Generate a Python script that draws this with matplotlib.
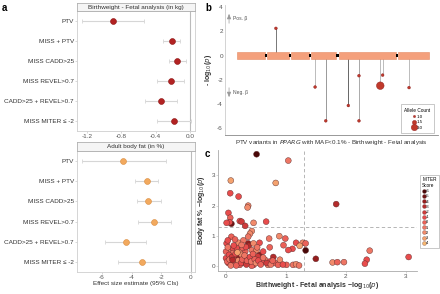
import matplotlib
matplotlib.use("Agg")
import matplotlib.pyplot as plt
import numpy as np
from matplotlib.colors import LinearSegmentedColormap
from matplotlib.lines import Line2D
from matplotlib.patches import Rectangle

plt.rcParams['font.family'] = ['Liberation Sans', 'DejaVu Sans']
plt.rcParams['mathtext.fontset'] = 'dejavusans'

# ---------------- data ----------------
categories = ["PTV", "MISS + PTV", "MISS CADD>25", "MISS REVEL>0.7",
              "CADD>25 + REVEL>0.7", "MISS MITER \u2264 -2"]
bw_est = [-0.90, -0.21, -0.15, -0.22, -0.34, -0.19]
bw_lo = [-1.26, -0.31, -0.25, -0.38, -0.52, -0.39]
bw_hi = [-0.54, -0.12, -0.05, -0.07, -0.15, 0.01]
bf_est = [-4.58, -2.96, -2.87, -2.47, -4.38, -3.32]
bf_lo = [-7.34, -3.77, -3.66, -3.59, -5.78, -4.95]
bf_hi = [-1.70, -2.20, -2.04, -1.35, -3.03, -1.70]
top_ticks = [-1.2, -0.8, -0.4, 0.0]
bot_ticks = [-6, -4, -2, 0]

# panel b: gene model (arbitrary position units) and PTV variants
exon_start = [5.6, 19.7, 31.0, 40.4, 53.5, 81.2]
exon_end = [18.8, 30.0, 39.4, 52.1, 80.3, 95.8]
var_pos = [23.9, 42.3, 47.3, 57.9, 62.9, 62.9, 72.9, 74.0, 86.4]
var_logp = [2.26, -2.62, -5.43, -4.16, -1.68, -5.43, -2.51, -1.63, -2.67]
var_ac = [1, 1, 1, 1, 1, 1, 3, 1, 1]
var_line = ["#777777", "#bbbbbb", "#999999", "#666666", "#aaaaaa", "#aaaaaa",
            "#bbbbbb", "#bbbbbb", "#bbbbbb"]
b_ticks = [4, 2, 0, -2, -4, -6]

# panel c: scatter of -log10(p)
c_x = [0.51, 1.04, 0.08, 0.83, 0.07, 0.21, 0.37, 0.36, 1.84, 0.04, 0.07, 0.09, 0.06,
       0.23, 0.26, 0.32, 0.46, 0.67, 0.01, 0.43, 0.40, 0.09, 0.37, 0.89, 0.72, 0.99,
       1.17, 1.28, 1.33, 1.23, 1.11, 1.04, 1.33, 0.56, 0.73, 0.96, 2.40, 2.35, 2.32,
       3.05, 1.50, 1.78, 1.86, 1.97, 1.01, 1.12, 1.17, 1.22, 0.79, 0.82, 0.73, 0.65,
       0.60, 0.56, 0.53, 0.29, 0.30, 0.46, 0.43, 0.37, 0.23, 0.32, 0.37, 0.38, 0.43,
       0.46, 0.01, 0.07, 0.12, 0.18, 0.21, 0.29, 0.00, 0.00, 0.04, 0.09, 0.15, 0.18,
       0.21, 0.23, 0.26, 0.12, 0.05, 0.51, 0.62, 0.70, 0.87, 0.90,
       0.02, 0.06, 0.10, 0.14, 0.16, 0.20, 0.25, 0.27, 0.31, 0.34, 0.35, 0.40, 0.42,
       0.48, 0.50, 0.54, 0.58, 0.62, 0.68, 0.75, 0.78, 0.95, 0.03, 0.13, 0.17, 0.08,
       0.28, 0.33, 0.45, 0.52, 0.03, 0.15, 0.11, 0.19, 0.26]
c_y = [3.70, 3.49, 2.83, 2.75, 2.41, 2.30, 2.00, 1.94, 2.05, 1.76, 1.60, 1.40, 1.45,
       1.49, 1.47, 1.33, 1.43, 1.47, 1.43, 1.16, 1.07, 0.97, 0.97, 0.99, 0.91, 0.91,
       0.77, 0.77, 0.75, 0.67, 0.57, 0.53, 0.52, 0.77, 0.62, 0.69, 0.51, 0.21, 0.08,
       0.30, 0.24, 0.12, 0.13, 0.13, 0.04, 0.04, 0.06, 0.02, 0.30, 0.10, 0.15, 0.21,
       0.12, 0.37, 0.32, 0.26, 0.12, 0.04, 0.01, 0.26, 0.53, 0.48, 0.75, 0.67, 0.53,
       0.75, 0.75, 0.56, 0.56, 0.60, 0.77, 0.85, 0.48, 0.26, 0.10, 0.10, 0.21, 0.08,
       0.32, 0.04, 0.37, 0.43, 0.37, 0.53, 0.48, 0.04, 0.04, 0.21,
       0.15, 0.22, 0.30, 0.12, 0.40, 0.18, 0.10, 0.22, 0.35, 0.05, 0.18, 0.30, 0.15,
       0.22, 0.10, 0.18, 0.05, 0.28, 0.10, 0.05, 0.18, 0.05, 0.62, 0.68, 0.02, 0.02,
       0.60, 0.63, 0.40, 0.62, 0.85, 0.88, 0.20, 0.45, 0.70]
c_miter = [-6, 1, 3, 3, -1, -1, 2, 2, -3, -1, 0, -5, -1,
           -1, -2, -2, 2, -1, -1, 2, 2, 0, 1, 2, 1, 0,
           -1, 2, 0, 3, -1, -1, -6, -1, 0, 0, 1, -1, -1,
           -1, -4, 2, 0, 1, 0, 1, 2, 1, -3, 0, -1, 1,
           -1, -4, -2, -4, -3, -1, 0, 1, 2, 0, -4, -3, 1,
           2, -1, 2, -1, -1, 2, 1, 0, -1, -1, 2, 0, -1,
           -4, 0, 2, 1, -1, 2, -1, 2, 0, 2,
           0, 1, -2, 1, -1, 2, -1, 0, 1, -2, 0, -1, 1,
           0, 2, -1, 0, 1, -2, 1, 0, -1, 1, -1, 0, 1,
           0, -1, 0, 1, -1, 0, -3, 3, 1]
miter_levels = [-6, -5, -4, -3, -2, -1, 0, 1, 2, 3, 4]
c_ticks_x = [0, 1, 2, 3]
c_ticks_y = [0, 1, 2, 3]
sig = 1.30

# ---------------- figure ----------------
W, H = 440, 294
fig = plt.figure(figsize=(4.4, 2.94), dpi=100)


def box(x0, y0, x1, y1):
    return [x0 / W, 1 - y1 / H, (x1 - x0) / W, (y1 - y0) / H]


txt = "#333333"
tick_fs = 4.6


def forest(ax, est, lo, hi, color, edge, ticks, xlim):
    y = np.arange(1, len(categories) + 1)
    err = [np.array(est) - np.array(lo), np.array(hi) - np.array(est)]
    ax.axvline(0, color="#bbbbbb", lw=0.8, zorder=1)
    ax.errorbar(est, y, xerr=err, fmt="none", ecolor="#d6d6d6", elinewidth=0.8,
                capsize=1.5, capthick=0.6, zorder=2)
    ax.scatter(est, y, s=18, color=color, edgecolors=edge, linewidths=0.4, zorder=3)
    ax.set_ylim(6.5, 0.5)
    ax.set_xlim(*xlim)
    ax.set_yticks(y)
    ax.set_yticklabels(categories, fontsize=tick_fs, color=txt)
    ax.set_xticks(ticks)
    ax.set_xticklabels([f"{t:.1f}" if isinstance(t, float) else str(t) for t in ticks],
                       fontsize=tick_fs, color="#555555")
    ax.tick_params(length=1.2, width=0.4, color="#bbbbbb", pad=1.0)
    for s in ax.spines.values():
        s.set_color("#cfcfcf")
        s.set_linewidth(0.6)


def strip(rect, label):
    sa = fig.add_axes(rect)
    sa.set_xticks([]); sa.set_yticks([])
    sa.set_facecolor("#f5f5f5")
    for s in sa.spines.values():
        s.set_color("#b0b0b0"); s.set_linewidth(0.6)
    sa.text(0.5, 0.45, label, ha="center", va="center", fontsize=4.6, color=txt,
            transform=sa.transAxes)


ax1 = fig.add_axes(box(77, 11, 195, 131))
forest(ax1, bw_est, bw_lo, bw_hi, "#b22222", "#8b1010", top_ticks, (-1.317, 0.058))
strip(box(77, 3, 195, 11), "Birthweight - Fetal analysis (in kg)")

ax2 = fig.add_axes(box(77, 151, 195, 272))
forest(ax2, bf_est, bf_lo, bf_hi, "#f2a95e", "#d98a3c", bot_ticks, (-7.68, 0.27))
strip(box(77, 142, 195, 151), "Adult body fat (in %)")
ax2.set_xlabel("Effect size estimate (95% CIs)", fontsize=4.6, color=txt, labelpad=1.0)

fig.text(2 / W, 1 - 8 / H, "a", fontsize=7, fontweight="bold", va="center")
fig.text(205 / W, 1 - 8 / H, "b", fontsize=7, fontweight="bold", va="center")
fig.text(205 / W, 1 - 154 / H, "c", fontsize=7, fontweight="bold", va="center")

# ---------------- panel b ----------------
axb = fig.add_axes(box(225, 5, 438, 135))
axb.set_xlim(0, 100)
axb.set_ylim(-6.61, 4.2)
for p, v, c in zip(var_pos, var_logp, var_line):
    axb.plot([p, p], [0, v], color=c, lw=0.7, zorder=1)
for a, b in zip(exon_start, exon_end):
    axb.add_patch(Rectangle((a, -0.32), b - a, 0.62, facecolor="#f4a07c",
                            edgecolor="#e58a62", lw=0.4, zorder=2))
for a, b in zip(exon_end[:-1], exon_start[1:]):
    m = (a + b) / 2
    axb.add_patch(Rectangle((m - 0.6, -0.12), 1.2, 0.24, facecolor="black",
                            edgecolor="none", zorder=3))
sizes = {1: 4, 1.5: 12, 3: 30}
axb.scatter(var_pos, var_logp, s=[sizes[a] for a in var_ac], color="#c0392b",
            edgecolors="#8b1a1a", linewidths=0.3, zorder=4)
axb.annotate("", xy=(1.9, 3.7), xytext=(1.9, 2.45),
             arrowprops=dict(arrowstyle="-|>,head_width=0.12,head_length=0.3",
                             color="#999999", lw=0.5))
axb.annotate("", xy=(1.9, -3.7), xytext=(1.9, -2.45),
             arrowprops=dict(arrowstyle="-|>,head_width=0.12,head_length=0.3",
                             color="#999999", lw=0.5))
axb.text(3.8, 3.05, "Pos. \u03b2", fontsize=3.6, color="#555555", va="center")
axb.text(3.8, -3.05, "Neg. \u03b2", fontsize=3.6, color="#555555", va="center")
axb.set_yticks(b_ticks)
axb.set_yticklabels([str(t) for t in b_ticks], fontsize=tick_fs, color="#555555")
axb.set_xticks([])
axb.tick_params(length=0, pad=1.5)
for k in ["top", "right"]:
    axb.spines[k].set_visible(False)
axb.spines["left"].set_color("#cccccc")
axb.spines["bottom"].set_color("#888888")
axb.spines["left"].set_linewidth(0.6)
axb.spines["bottom"].set_linewidth(0.6)
axb.set_ylabel("- log$_{10}$($p$)", fontsize=5, fontweight="bold", color=txt, labelpad=2)
axb.set_xlabel("PTV variants in $\\it{PPARG}$ with MAF<0.1% - Birthweight - Fetal analysis",
               fontsize=4.5, color=txt, labelpad=2)
h = [Line2D([], [], marker="o", ls="none", markersize=ms, color="#c0392b",
            markeredgecolor="#8b1a1a", markeredgewidth=0.3) for ms in [1.6, 3.0, 4.6]]
lg = axb.legend(h, ["1.0", "1.5", "3.0"], title="Allele Count", loc="lower right",
                fontsize=3.2, title_fontsize=3.4, frameon=True, borderpad=0.5,
                handletextpad=0.3, labelspacing=0.35, handlelength=1.0,
                bbox_to_anchor=(0.985, 0.005))
lg.get_frame().set_linewidth(0.4)
lg.get_frame().set_edgecolor("#888888")
lg.get_frame().set_boxstyle("square")

# ---------------- panel c ----------------
cmap = LinearSegmentedColormap.from_list("miter", ["#4a0808", "#a82424", "#e84c4c",
                                                    "#f0806a", "#f6b870"])
norm = plt.Normalize(-6, 4)
axc = fig.add_axes(box(218, 150, 417, 271))
axc.set_xlim(-0.134, 3.19)
axc.set_ylim(-0.163, 3.84)
axc.axvline(sig, color="#aaaaaa", lw=0.6, ls=(0, (4, 3)), zorder=1)
axc.axhline(sig, color="#aaaaaa", lw=0.6, ls=(0, (4, 3)), zorder=1)
axc.scatter(c_x, c_y, c=[cmap(norm(m)) for m in c_miter], s=18,
            edgecolors="#5a2a2a", linewidths=0.3, zorder=3)
axc.set_xticks(c_ticks_x)
axc.set_yticks(c_ticks_y)
axc.set_xticklabels([str(t) for t in c_ticks_x], fontsize=tick_fs, color="#555555")
axc.set_yticklabels([str(t) for t in c_ticks_y], fontsize=tick_fs, color="#555555")
axc.tick_params(length=1.2, width=0.4, color="#bbbbbb", pad=1.0)
for k in ["top", "right"]:
    axc.spines[k].set_visible(False)
for k in ["left", "bottom"]:
    axc.spines[k].set_color("#aaaaaa")
    axc.spines[k].set_linewidth(0.6)
axc.set_xlabel("Birthweight - Fetal analysis \u2212log$_{10}$($p$)", fontsize=5,
               fontweight="bold", color=txt, labelpad=0.5)
axc.set_ylabel("Body fat % \u2212log$_{10}$($p$)", fontsize=5, fontweight="bold",
               color=txt, labelpad=3)
hc = [Line2D([], [], marker="o", ls="none", markersize=2.8, color=cmap(norm(m)),
             markeredgecolor="#5a2a2a", markeredgewidth=0.2) for m in miter_levels]
lgc = fig.legend(hc, [str(m) for m in miter_levels], title="MITER\nScore",
                 loc="upper left", bbox_to_anchor=(421 / W, 1 - 176 / H),
                 fontsize=2.9, title_fontsize=3.3, frameon=True, borderpad=0.3,
                 handletextpad=0.1, labelspacing=0.3, handlelength=0.8,
                 borderaxespad=0)
lgc.get_frame().set_linewidth(0.4)
lgc.get_frame().set_edgecolor("#888888")
lgc.get_frame().set_boxstyle("square")
lgc._legend_box.align = "left"

fig.savefig("out.png", dpi=100)
